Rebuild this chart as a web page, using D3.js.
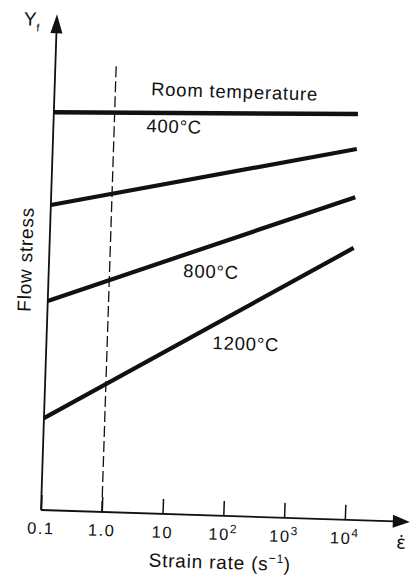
<!DOCTYPE html>
<html><head><meta charset="utf-8">
<script src="https://cdn.jsdelivr.net/npm/d3@7"></script>
<style>
html,body{margin:0;padding:0;background:#fff;overflow:hidden;}
svg{display:block;}
text{font-family:"Liberation Sans", Arial, Helvetica, sans-serif; fill:#111;}
</style>
</head><body><div id="chart"></div>
<script>
// ---- data ----
const curves = ["Room temperature", "400°C", "800°C", "1200°C"];
const strainLogRange = [-1, 4];              // log10 of strain rate at line ends (0.1 … 10^4)
const stressAtStart = [99.5, 76.3, 52.3, 23.0]; // flow stress (arbitrary units) at 0.1 s^-1
const stressAtEnd   = [101.5, 92.75, 80.7, 68.0]; // flow stress at 10^4 s^-1
const tickExp  = [-1, 0, 1, 2, 3, 4];
const tickBase = ["0.1", "1.0", "10", "10", "10", "10"];
const tickSup  = ["", "", "", "2", "3", "4"];
const refStrainLog = 0;                       // dashed reference at 1.0 s^-1
const refTop = 111.8;

// ---- layout ----
const W = 411, H = 575;
const labelAt = [[1.96, 104.5], [0.985, 95.3], [1.67, 59.35], [2.28, 41.6]];

const svg = d3.select("#chart").append("svg").attr("width", W).attr("height", H);
const g = svg.append("g").attr("transform", "translate(41,510) rotate(1.85)");

const x = d3.scaleLinear().domain([-1, 4]).range([0, 304]);
const y = d3.scaleLinear().domain([0, 120]).range([0, -480]);

// dashed reference line
g.append("line")
  .attr("x1", x(refStrainLog)).attr("x2", x(refStrainLog))
  .attr("y1", y(0)).attr("y2", y(refTop))
  .attr("stroke", "#111").attr("stroke-width", 1.3)
  .attr("stroke-dasharray", "11,4");

// x axis with inward ticks
const xAxis = d3.axisBottom(x).tickValues(tickExp).tickSizeInner(-15).tickSizeOuter(0).tickFormat(() => "");
const ax = g.append("g").call(xAxis);
ax.select(".domain").remove();
ax.selectAll(".tick line").attr("stroke", "#111").attr("stroke-width", 1.5);
ax.selectAll(".tick text").remove();
ax.selectAll(".tick").each(function(d, i) {
  const t = d3.select(this).append("text")
    .attr("y", 24).attr("text-anchor", "middle")
    .style("font-size", "16.5px").style("letter-spacing", "1.5px")
    .attr("fill", "#111");
  t.append("tspan").text(tickBase[i]);
  if (tickSup[i]) t.append("tspan").attr("dy", -7).style("font-size", "12px").text(tickSup[i]);
});

// axis lines
g.append("line").attr("x1", 0).attr("x2", 354).attr("y1", 0).attr("y2", 0)
  .attr("stroke", "#111").attr("stroke-width", 1.8);
g.append("path").attr("d", "M352,-6.5L369,0L352,6.5Z").attr("fill", "#111");
g.append("line").attr("x1", 0).attr("x2", 0).attr("y1", 0).attr("y2", -480)
  .attr("stroke", "#111").attr("stroke-width", 1.8);
g.append("path").attr("d", "M-6,-477L0,-496L6,-477Z").attr("fill", "#111");

// data lines
const line = d3.line().x(d => x(d[0])).y(d => y(d[1]));
curves.forEach((c, i) => {
  g.append("path")
    .attr("d", line([[strainLogRange[0], stressAtStart[i]], [strainLogRange[1], stressAtEnd[i]]]))
    .attr("stroke", "#111").attr("stroke-width", i === 0 ? 4.5 : 4.2)
    .attr("fill", "none").attr("stroke-linecap", "butt");
  g.append("text")
    .attr("x", x(labelAt[i][0])).attr("y", y(labelAt[i][1]))
    .attr("text-anchor", "middle")
    .style("font-size", "18.5px").style("letter-spacing", "0.8px")
    .text(c);
});

// axis titles
const xt = g.append("text").attr("x", x(2) - 2).attr("y", 53).attr("text-anchor", "middle")
  .style("font-size", "19px").style("letter-spacing", "0.8px");
xt.append("tspan").text("Strain rate (s");
xt.append("tspan").attr("dy", -8).style("font-size", "12px").text("−1");
xt.append("tspan").attr("dy", 8).text(")");

g.append("text").attr("x", 356).attr("y", 27)
  .style("font-family", "'DejaVu Sans', sans-serif").style("font-size", "18px").text("ε̇");

g.append("text").attr("transform", "translate(-17,-250) rotate(-90)")
  .attr("text-anchor", "middle")
  .style("font-size", "19px").style("letter-spacing", "0.8px")
  .text("Flow stress");

const yt = g.append("text").attr("x", -33).attr("y", -484).style("font-size", "19px");
yt.append("tspan").text("Y");
yt.append("tspan").attr("dy", 6).style("font-size", "11px").text("f");
</script>
</body></html>
